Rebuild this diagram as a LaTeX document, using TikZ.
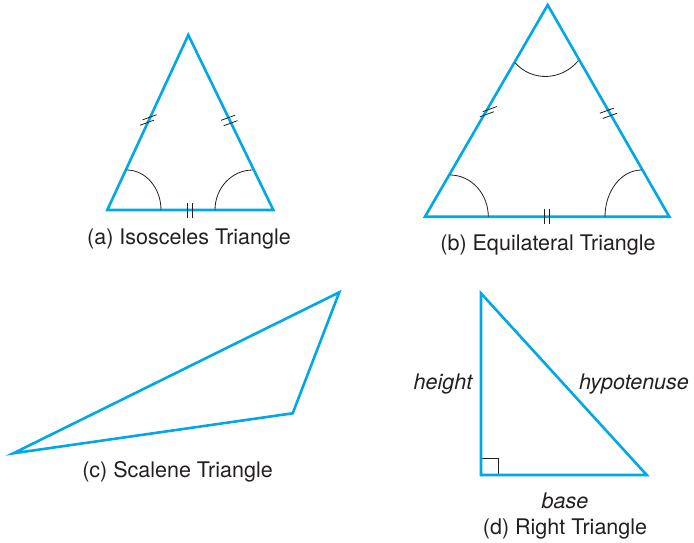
\documentclass[tikz,border=0pt]{standalone}
\usepackage{fontspec}
\setmainfont{TeX Gyre Heros}
\definecolor{triblue}{RGB}{0,168,230}
\definecolor{txt}{RGB}{35,31,32}
\begin{document}
\begin{tikzpicture}[x=1pt,y=-1pt,
  tri/.style={draw=triblue,line width=2.6pt,line join=miter},
  thin/.style={draw=txt,line width=0.8pt},
  lbl/.style={text=txt,font=\fontsize{21.5}{24}\selectfont,inner sep=0pt,anchor=base},
  ilbl/.style={lbl,font=\fontsize{21.5}{24}\selectfont\itshape}]
\useasboundingbox (0,0) rectangle (694,543);
% (a) isosceles
\coordinate (a1) at (107.3,210);
\coordinate (a2) at (188.3,35);
\coordinate (a3) at (273.3,210);
\draw[tri] (a1) -- (a2) -- (a3) -- cycle;
\draw[thin] (161,210) .. controls (161,187.9) and (145.6,170) .. (126.7,170);
\draw[thin] (215,210) .. controls (215,187.9) and (231.9,170) .. (252.7,170);
\draw[thin] (149.6,117.3) ++(-7,2.55) -- ++(14,-5.1);
\draw[thin] (147.0,122.7) ++(-7,2.55) -- ++(14,-5.1);
\draw[thin] (228.0,117.8) ++(-7,2.55) -- ++(14,-5.1);
\draw[thin] (230.6,123.2) ++(-7,2.55) -- ++(14,-5.1);
\draw[thin] (187.1,202.5) -- (187.1,217.5);
\draw[thin] (191.9,202.5) -- (191.9,217.5);
\node[lbl] (la) at (189,244) {(a) Isosceles Triangle};
% (b) equilateral
\coordinate (b1) at (425,216.7);
\coordinate (b2) at (547.7,5);
\coordinate (b3) at (669.3,216.7);
\draw[tri] (b1) -- (b2) -- (b3) -- cycle;
\draw[thin] (488.3,216.7) .. controls (488.3,193.7) and (471.1,175) .. (450,175);
\draw[thin] (605,216.7) .. controls (605,190.9) and (621.4,170) .. (641.7,170);
\draw[thin] (515,62.7) .. controls (532.2,82.1) and (561.8,80.6) .. (578.3,60.7);
\draw[thin] (489.8,109.1) ++(-7,2.55) -- ++(14,-5.1);
\draw[thin] (486.8,114.3) ++(-7,2.55) -- ++(14,-5.1);
\draw[thin] (606.8,110.7) ++(-7,2.55) -- ++(14,-5.1);
\draw[thin] (609.8,115.9) ++(-7,2.55) -- ++(14,-5.1);
\draw[thin] (544.3,209.2) -- (544.3,224.2);
\draw[thin] (549.1,209.2) -- (549.1,224.2);
\node[lbl] (lb) at (548,250) {(b) Equilateral Triangle};
% (c) scalene
\coordinate (c1) at (13.3,453.3);
\coordinate (c2) at (339.3,292.3);
\coordinate (c3) at (292.7,413.3);
\draw[tri] (c1) -- (c2) -- (c3) -- cycle;
\node[lbl] (lc) at (177.5,477) {(c) Scalene Triangle};
% (d) right
\coordinate (d1) at (481,293.3);
\coordinate (d2) at (481,475);
\coordinate (d3) at (646.7,475);
\draw[thin] (481,458) -- (498,458) -- (498,475);
\draw[tri] (d1) -- (d2) -- (d3) -- cycle;
\node[ilbl] (lh) at (443,389) {height};
\node[ilbl] (lhy) at (634,389) {hypotenuse};
\node[ilbl] (lbs) at (565,508) {base};
\node[lbl] (ld) at (565,534.5) {(d) Right Triangle};
\end{tikzpicture}
\end{document}
